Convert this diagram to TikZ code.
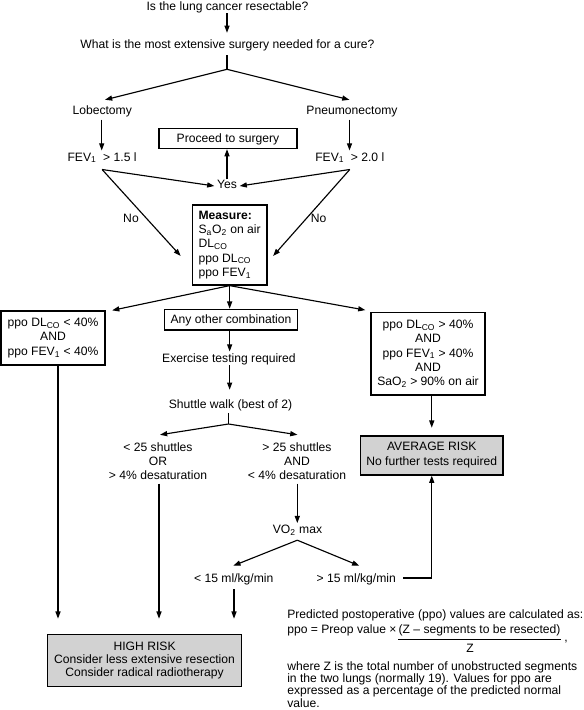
\documentclass[tikz,border=0pt]{standalone}
\usepackage{fontspec}
\setmainfont{Liberation Sans}
\usetikzlibrary{arrows.meta,calc}
\definecolor{riskgray}{RGB}{210,210,210}
\newcommand\myfs[1]{\fontsize{9.1pt}{#1}\selectfont}
\begin{document}
\begin{tikzpicture}[x=0.75pt,y=-0.75pt, font=\myfs{10.9pt},
  txt/.style={inner sep=0pt, text height=6.5pt, text depth=0pt},
  box/.style={draw, line width=0.95pt, inner sep=0pt, align=center},
  one/.style={text height=6.5pt, text depth=0pt},
  risk/.style={box, fill=riskgray},
  ln/.style={line width=0.85pt},
  arr/.style={ln, -{Triangle[length=5.4pt,width=3.8pt]}}]
\useasboundingbox (0,0) rectangle (583,710);

% ---------- nodes ----------
\node[txt] (t1) at (227.5,6) {Is the lung cancer resectable?};
\node[txt] (t2) at (227.5,44) {What is the most extensive surgery needed for a cure?};
\coordinate (j1) at (227,69.3);
\node[txt] (lob) at (102.2,110) {Lobectomy};
\node[txt] (pne) at (352,110) {Pneumonectomy};
\node[txt,anchor=west] (fevL) at (67.3,156.7) {FEV\textsubscript{1}\hspace{0.55em}> 1.5 l};
\node[txt,anchor=west] (fevR) at (315,156.7) {FEV\textsubscript{1}\hspace{0.55em}> 2.0 l};
\node[box,one,minimum width=103.5pt,minimum height=15.2pt] (proceed) at (228,138.4) {Proceed to surgery};
\node[txt] (yes) at (227,184) {Yes};
\node[txt] (noL) at (131,217.7) {No};
\node[txt] (noR) at (318.6,217.7) {No};
\node[box,align=left,minimum width=56pt,minimum height=60pt,font=\myfs{10.65pt}] (measure) at (229.65,245)
  {\textbf{Measure:}\\S\textsubscript{a}O\textsubscript{2} on air\\DL\textsubscript{CO}\\ppo DL\textsubscript{CO}\\ppo FEV\textsubscript{1}};

\node[box,minimum width=78pt,minimum height=40.5pt,font=\myfs{10.9pt}] (leftbox) at (53,338)
  {ppo DL\textsubscript{CO} < 40\%\\AND\\ppo FEV\textsubscript{1} < 40\%};
\node[box,one,minimum width=99.5pt,minimum height=15.5pt] (any) at (231,319.65) {Any other combination};
\node[box,minimum width=85.5pt,minimum height=61.7pt,font=\myfs{10.8pt}] (rightbox) at (428,353.85)
  {ppo DL\textsubscript{CO} > 40\%\\AND\\ppo FEV\textsubscript{1} > 40\%\\AND\\SaO\textsubscript{2} > 90\% on air};
\node[txt] (exer) at (229,358.3) {Exercise testing required};
\node[txt] (shut) at (230.5,404.3) {Shuttle walk (best of 2)};
\coordinate (j2) at (228.5,424);
\node[inner sep=0pt,align=center,font=\myfs{10.65pt}] (s1) at (158,461)
  {< 25 shuttles\\OR\\> 4\% desaturation};
\node[inner sep=0pt,align=center,font=\myfs{10.65pt}] (s2) at (297,461)
  {> 25 shuttles\\AND\\< 4\% desaturation};
\node[risk,minimum width=106.9pt,minimum height=29.25pt,font=\myfs{11.25pt}] (avg) at (431.75,455.5)
  {AVERAGE RISK\\No further tests required};
\node[txt] (vo2) at (297.5,529) {VO\textsubscript{2} max};
\node[txt] (lt15) at (233.8,578.3) {< 15 ml/kg/min};
\node[txt] (gt15) at (356.3,578) {> 15 ml/kg/min};
\node[risk,minimum width=145.5pt,minimum height=39.3pt,font=\myfs{10pt}] (high) at (144.6,660.5)
  {HIGH RISK\\Consider less extensive resection\\Consider radical radiotherapy};

% note
\node[txt,anchor=west] (n1) at (287,614) {Predicted postoperative (ppo) values are calculated as:};
\node[txt,anchor=west] (n2) at (287,629.3) {ppo = Preop value ×};
\node[txt,anchor=west] (num) at (398.3,629.3) {(Z – segments to be resected)};
\draw[line width=0.75pt] ($(num.south west)+(0,5.35)$) -- ($(num.south east)+(0,5.35)$);
\node[txt] (den) at (470,647.7) {Z};
\node[txt] (comma) at (566,636.7) {,};
\node[anchor=north west,align=left,inner sep=0pt,font=\myfs{9.1pt}] (n3) at (287,661.6)
  {where Z is the total number of unobstructed segments\\in the two lungs (normally 19). Values for ppo are\\expressed as a percentage of the predicted normal\\value.};

% ---------- connectors ----------
\draw[arr] ($(t1.south)+(-0.5,2.6)$) -- ($(t2.north)+(-0.5,-6.6)$);
\draw[ln] ($(t2.south)+(-0.5,6.6)$) -- (j1);
\draw[arr] (j1) -- ($(lob.north)+(2.8,-5.6)$);
\draw[arr] (j1) -- ($(pne.north)+(-2.6,-5.6)$);
\draw[arr] ($(lob.south)+(-0.5,5)$) -- ($(lob.south |- fevL.north)+(-0.5,-1.6)$);
\draw[arr] ($(pne.south)+(-2.5,5)$) -- ($(pne.south |- fevR.north)+(-2.5,-1.6)$);
\draw[arr] ($(fevL.south)+(0,8.2)$) -- ($(yes.west)+(-2.5,2)$);
\draw[arr] ($(fevR.south)+(0,8.2)$) -- ($(yes.east)+(2.5,2)$);
\draw[arr] (yes.north) -- (yes.north |- proceed.south);
\draw[arr] ($(fevL.south)+(0,8.2)$) -- ($(measure.west)+(-11,11)$);
\draw[arr] ($(fevR.south)+(0,8.2)$) -- ($(measure.east)+(5.5,11)$);

\draw[arr] (measure.south) -- ($(leftbox.north east)+(6.5,0)$);
\draw[arr] (measure.south) -- ($(rightbox.north west)+(-5,-2)$);
\draw[arr] (measure.south) -- (measure.south |- any.north);
\draw[arr] (any.south -| measure.south) -- ($(exer.north -| measure.south)+(0,-2.2)$);
\draw[arr] ($(exer.south -| measure.south)+(0,2.3)$) -- ($(shut.north -| measure.south)+(0,-10)$);
\draw[ln] ($(shut.south -| j2)+(0,4)$) -- (j2);
\draw[arr] (j2) -- ($(s1.north)+(2,-7.3)$);
\draw[arr] (j2) -- ($(s2.north)+(0.4,-7.3)$);

\draw[arr] ($(leftbox.south)+(5,0)$) -- ($(leftbox.south |- high.north)+(5,-15)$);
\draw[arr] ($(s1.south)+(1,3.6)$) -- ($(s1.south |- high.north)+(1,-15)$);
\draw[arr] ($(s2.south)+(0.3,3.6)$) -- ($(s2.south |- vo2.north)+(0.3,-1.3)$);
\draw[arr] ($(vo2.south)+(-0.2,6.6)$) -- ($(lt15.north)+(-0.5,-8)$);
\draw[arr] ($(vo2.south)+(-0.2,6.6)$) -- ($(gt15.north)+(3,-7.65)$);
\draw[arr] ($(lt15.south)+(0.2,6.4)$) -- ($(lt15.south |- high.north)+(0.2,-15)$);
\draw[arr] ($(gt15.east)+(7.3,0)$) -| (avg.south);
\draw[arr] (rightbox.south -| avg.south) -- ($(avg.north)+(0,-7.7)$);
\end{tikzpicture}
\end{document}
